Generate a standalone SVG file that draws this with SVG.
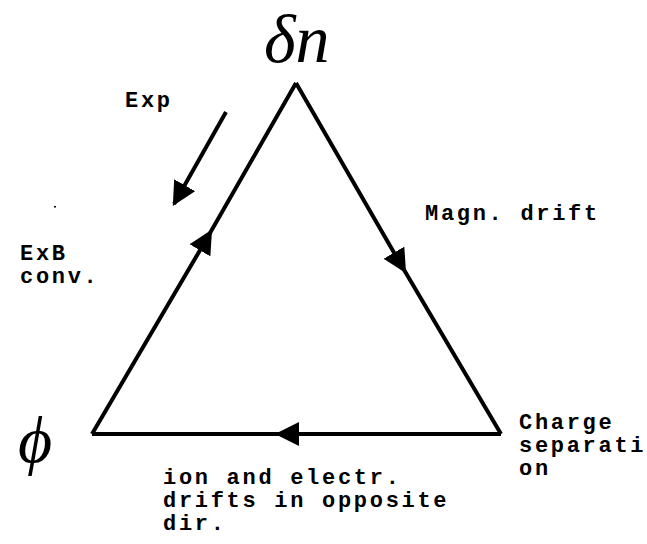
<svg xmlns="http://www.w3.org/2000/svg" width="647" height="544" viewBox="0 0 647 544">
<style>
.t{font-family:"Liberation Mono","Courier New",monospace;font-size:22px;font-weight:bold;letter-spacing:2.7px;fill:#000}
.m{font-family:"Liberation Serif","Times New Roman",serif;font-style:italic;fill:#000}
.e{stroke:#000;stroke-width:4;fill:none}
</style>
<defs>
<marker id="ah" viewBox="0 0 10 10" refX="5" refY="5" markerWidth="6" markerHeight="6" markerUnits="strokeWidth" orient="auto"><path d="M0,0 L10,5 L0,10 Z" fill="#000"/></marker>
<marker id="ahEnd" viewBox="0 0 10 10" refX="9" refY="5" markerWidth="6" markerHeight="6" markerUnits="strokeWidth" orient="auto"><path d="M0,0 L10,5 L0,10 Z" fill="#000"/></marker>
</defs>
<rect width="647" height="544" fill="#fff"/>
<g id="connectors">
<path class="e" d="M92,434 L206,240 L296,83" marker-mid="url(#ah)"/>
<path class="e" d="M296,83 L400,263 L501,434" marker-mid="url(#ah)"/>
<path class="e" d="M501,434 L287,434 L92,434" marker-mid="url(#ah)"/>
<path class="e" d="M226,112 L174,204" marker-end="url(#ahEnd)"/>
</g>
<g id="node-dn"><text class="m" x="264" y="62" font-size="68">δn</text></g>
<g id="node-phi"><text class="m" x="18" y="462" font-size="66">ϕ</text></g>
<g id="label-exp"><text class="t" x="125" y="107">Exp</text></g>
<g id="label-magn"><text class="t" x="425" y="220">Magn. drift</text></g>
<g id="label-exb"><text class="t" x="20" y="260">ExB</text><text class="t" x="20" y="283">conv.</text></g>
<g id="label-charge"><text class="t" x="519" y="429">Charge</text><text class="t" x="519" y="452">separati</text><text class="t" x="519" y="475">on</text></g>
<g id="label-ion"><text class="t" x="163" y="484">ion and electr.</text><text class="t" x="163" y="507">drifts in opposite</text><text class="t" x="163" y="530">dir.</text></g>
<rect x="54" y="206" width="2" height="1.5" fill="#000"/>
</svg>
